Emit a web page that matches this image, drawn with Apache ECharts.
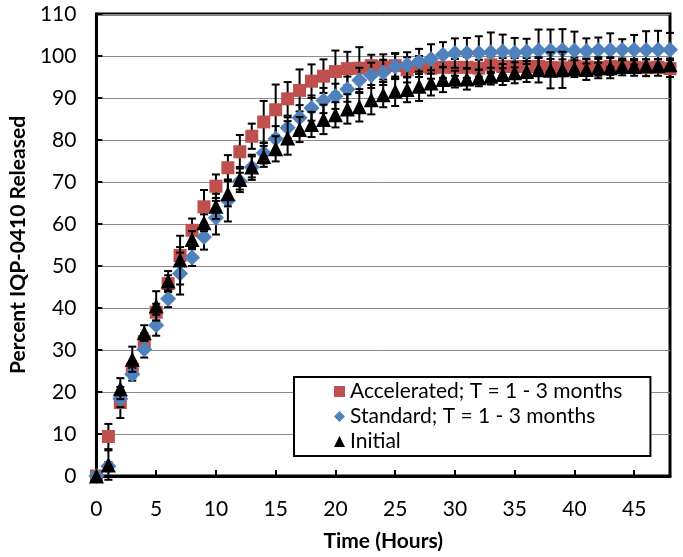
<!DOCTYPE html>
<html>
<head>
<meta charset="utf-8">
<script src="https://cdn.jsdelivr.net/npm/echarts@6/dist/echarts.min.js"></script>
<style>
html,body{margin:0;padding:0;background:#fff;}
#chart{width:683px;height:557px;}
</style>
</head>
<body>
<div id="chart"></div>
<script>
const hours = [0,1,2,3,4,5,6,7,8,9,10,11,12,13,14,15,16,17,18,19,20,21,22,23,24,25,26,27,28,29,30,31,32,33,34,35,36,37,38,39,40,41,42,43,44,45,46,47,48];
const xTickLabels = ['0','5','10','15','20','25','30','35','40','45'];
const yTickLabels = ['0','10','20','30','40','50','60','70','80','90','100','110'];
const seriesNames = ['Accelerated; T = 1 - 3 months','Standard; T = 1 - 3 months','Initial'];

const accelerated = [0,9.4,17.5,25.4,32,39,45.8,52.5,58.5,64.1,69,73.4,77.2,80.9,84.3,87.2,89.8,91.8,94,95.2,96.3,97,97.1,97.7,97.4,97.7,96.7,97.5,97.1,97.3,97.3,97.3,97.1,97.9,97.5,97.5,97.5,97.5,97.3,97.2,97.6,97.4,97.3,97.5,97.4,97.3,97.2,97.3,97.0];
const acceleratedErr = [0,3,3.7,2,2,2,2,2,2.8,4,2.8,3,4,3,5,6,4,5,4,4,5,4,5,2.6,3,3,3,2.5,2.5,2.5,2,2.5,2,2,2,2,2,2,2,2,2,2,2,2,2,2,2,2,2];

const standard = [0,2.3,18.4,24.2,30.2,35.9,42.2,48.2,52,56.9,61.5,65.6,70.2,73.5,76.9,80.3,82.9,85.3,87.6,89.4,90.4,92.1,94.2,95.4,96.1,97.5,97.9,98.7,99.3,100.3,100.7,100.7,100.7,100.9,101.1,100.8,101.1,101.3,101.3,101.4,101.3,101.2,101.4,101.4,101.5,101.5,101.4,101.5,101.5];
const standardErr = [0,1,2,1.5,2,2.5,2,5,2,3,4,5,2,3,2.5,3,2.5,3,3,3,3,3,3,3,3,3,3,3,3.5,3,3.5,3.6,4,4.7,4,3.5,3,5,5,5,4.5,3,3,4,2.5,3.5,4.5,4.5,4];

const initial = [0,2.6,20.8,27.8,34.1,40.5,46.4,51.4,56.3,60.3,64.2,67.2,70.6,73.6,76.1,77.9,80.5,82.5,83.7,84.9,86,87.4,87.9,89.6,90.8,91.6,92,92.8,93.6,94.4,94.5,94.5,94.8,95.2,95.6,96,96.3,96.7,96.6,96.7,97,96.8,97.2,97.2,97.5,97.5,97.7,97.7,97.9];
const initialErr = [0,3.5,2.5,3,1.8,3.5,2.4,5.8,2,2,3,3,3,2.5,2.5,3,4,3,3,3.5,3,3.5,3.5,3.5,3,3.5,3,3.5,3,3,2,2.5,2,2,2.5,2.5,2.5,3,4.3,4.3,2,2.5,2.5,2.5,1.5,1.5,1.5,1.5,1.5];

const FONT = 'Lato';

function errData(vals, errs) {
  return hours.map((h, i) => [h, vals[i] - errs[i], vals[i] + errs[i]]);
}
function ptData(vals) {
  return hours.map((h, i) => [h, vals[i]]);
}
function renderErr(params, api) {
  const x = api.value(0);
  const lo = api.value(1), hi = api.value(2);
  if (hi - lo <= 0) return null;
  const p1 = api.coord([x, hi]);
  const p2 = api.coord([x, lo]);
  const w = 4;
  const st = {stroke: '#000', lineWidth: 2};
  return {type: 'group', children: [
    {type: 'line', shape: {x1: p1[0], y1: p1[1], x2: p2[0], y2: p2[1]}, style: st},
    {type: 'line', shape: {x1: p1[0] - w, y1: p1[1], x2: p1[0] + w, y2: p1[1]}, style: st},
    {type: 'line', shape: {x1: p2[0] - w, y1: p2[1], x2: p2[0] + w, y2: p2[1]}, style: st}
  ]};
}

const colors = ['#C0504D', '#4F81BD', '#000000'];
const symbols = ['rect', 'diamond', 'triangle'];
const sizes = [13, 16, 15];
const vals = [accelerated, standard, initial];
const errs = [acceleratedErr, standardErr, initialErr];

const series = [];
for (let k = 0; k < 3; k++) {
  series.push({
    type: 'custom', name: seriesNames[k] + ' err', renderItem: renderErr,
    data: errData(vals[k], errs[k]), encode: {x: 0, y: [1, 2]}, z: 3 + k * 2, silent: true
  });
  series.push({
    type: 'scatter', name: seriesNames[k], data: ptData(vals[k]),
    symbol: symbols[k], symbolSize: sizes[k],
    itemStyle: {color: colors[k], opacity: 1}, z: 4 + k * 2
  });
}

const chart = echarts.init(document.getElementById('chart'), null, {renderer: 'canvas'});
chart.setOption({
  animation: false,
  backgroundColor: '#fff',
  grid: {left: 84, right: 13, top: 14, bottom: 80, show: true, borderColor: '#000', borderWidth: 3, backgroundColor: 'transparent'},
  legend: {
    data: seriesNames.map((n, i) => ({name: n, icon: symbols[i], itemStyle: {color: colors[i]}})),
    orient: 'vertical', left: 294, top: 377,
    itemWidth: 11, itemHeight: 11, itemGap: 4,
    padding: [4, 28, 4, 40],
    backgroundColor: '#fff', borderColor: '#000', borderWidth: 2,
    textStyle: {fontFamily: FONT, fontSize: 21, color: '#000'}
  },
  xAxis: {
    type: 'value', min: 0, max: 48, interval: 5,
    name: 'Time (Hours)', nameLocation: 'middle', nameGap: 55,
    nameTextStyle: {fontFamily: FONT, fontSize: 21, fontWeight: 'bold', color: '#000'},
    axisLine: {lineStyle: {color: '#000', width: 3}},
    axisTick: {inside: true, length: 6, lineStyle: {color: '#000', width: 2}},
    axisLabel: {fontFamily: FONT, fontSize: 21, color: '#000', margin: 23, showMaxLabel: false,
      formatter: v => { const i = xTickLabels.indexOf(String(v)); return i >= 0 ? xTickLabels[i] : ''; }},
    splitLine: {show: false}
  },
  yAxis: {
    type: 'value', min: 0, max: 110, interval: 10,
    name: 'Percent IQP-0410 Released', nameLocation: 'middle', nameGap: 57, nameRotate: 90,
    nameTextStyle: {fontFamily: FONT, fontSize: 21, fontWeight: 'bold', color: '#000'},
    axisLine: {lineStyle: {color: '#000', width: 3}},
    axisTick: {inside: true, length: 6, lineStyle: {color: '#000', width: 2}},
    axisLabel: {fontFamily: FONT, fontSize: 21, color: '#000', margin: 20,
      formatter: v => { const i = yTickLabels.indexOf(String(v)); return i >= 0 ? yTickLabels[i] : ''; }},
    splitLine: {show: true, lineStyle: {color: '#8c8c8c', width: 1}}
  },
  series: series
});
</script>
</body>
</html>
